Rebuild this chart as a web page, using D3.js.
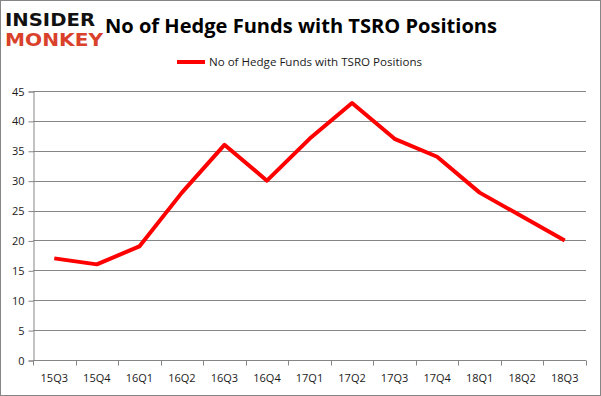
<!DOCTYPE html>
<html>
<head>
<meta charset="utf-8">
<script src="https://cdn.jsdelivr.net/npm/d3@7"></script>
<style>
  body { margin: 0; background: #fff; }
  svg { display: block; font-family: "Open Sans", "DejaVu Sans", sans-serif; }
</style>
</head>
<body>
<svg id="chart"></svg>
<script>
'use strict';

// data
const quarters = ['15Q3', '15Q4', '16Q1', '16Q2', '16Q3', '16Q4', '17Q1',
                  '17Q2', '17Q3', '17Q4', '18Q1', '18Q2', '18Q3'];
const funds = [17, 16, 19, 28, 36, 30, 37, 43, 37, 34, 28, 24, 20];
const yTicks = [0, 5, 10, 15, 20, 25, 30, 35, 40, 45];
const seriesName = 'No of Hedge Funds with TSRO Positions';
const title = 'No of Hedge Funds with TSRO Positions';

const width = 601, height = 396;
const plot = { left: 33, right: 586, top: 91, bottom: 360 };

const svg = d3.select('#chart')
    .attr('width', width)
    .attr('height', height);

// outer frame
svg.append('rect')
    .attr('x', 0.5).attr('y', 0.5)
    .attr('width', width - 1).attr('height', height - 1)
    .attr('fill', '#fff')
    .attr('stroke', '#868686');

const x = d3.scaleBand()
    .domain(quarters)
    .range([plot.left, plot.right]);

const y = d3.scaleLinear()
    .domain([0, 45])
    .range([plot.bottom, plot.top]);

// horizontal gridlines
svg.append('g')
    .selectAll('line')
    .data(yTicks.filter(d => d > 0))
    .enter()
    .append('line')
    .attr('x1', plot.left)
    .attr('x2', plot.right)
    .attr('y1', d => Math.round(y(d)) + 0.5)
    .attr('y2', d => Math.round(y(d)) + 0.5)
    .attr('stroke', '#868686')
    .attr('stroke-width', 1);

// y axis
const yAxis = d3.axisLeft(y).tickValues(yTicks).tickSize(5).tickPadding(4);
const gy = svg.append('g')
    .attr('transform', 'translate(' + (plot.left + 0.5) + ',0.5)')
    .call(yAxis);

// x axis
const xAxis = d3.axisBottom(x).tickSize(0).tickPadding(14);
const gx = svg.append('g')
    .attr('transform', 'translate(0,' + (Math.round(plot.bottom) + 0.5) + ')')
    .call(xAxis);

// category boundary ticks
gx.selectAll('.bound')
    .data(quarters.concat(['end']))
    .enter()
    .append('line')
    .attr('class', 'bound')
    .attr('x1', (d, i) => Math.round(plot.left + i * x.step()) + 0.5)
    .attr('x2', (d, i) => Math.round(plot.left + i * x.step()) + 0.5)
    .attr('y1', 0)
    .attr('y2', 5)
    .attr('stroke', '#868686');

[gx, gy].forEach(g => {
    g.select('.domain').attr('stroke', '#868686');
    g.selectAll('.tick line').attr('stroke', '#868686');
    g.selectAll('.tick text')
        .attr('fill', '#1a1a1a')
        .style('font-size', '11px')
        .style('font-family', '"Open Sans", "DejaVu Sans", sans-serif');
});
gx.select('.domain').attr('d', 'M' + plot.left + ',0H' + plot.right);

// the series line
const line = d3.line()
    .x((d, i) => x(quarters[i]) + x.bandwidth() / 2)
    .y(d => y(d));

svg.append('path')
    .datum(funds)
    .attr('d', line)
    .attr('fill', 'none')
    .attr('stroke', '#ff0000')
    .attr('stroke-width', 4)
    .attr('stroke-linejoin', 'round');

// title
svg.append('text')
    .attr('x', 301)
    .attr('y', 33)
    .attr('text-anchor', 'middle')
    .style('font-size', '20px')
    .style('font-weight', 'bold')
    .attr('fill', '#000')
    .attr('textLength', 392)
    .attr('lengthAdjust', 'spacingAndGlyphs')
    .text(title);

// legend
svg.append('line')
    .attr('x1', 177).attr('x2', 205)
    .attr('y1', 62).attr('y2', 62)
    .attr('stroke', '#ff0000')
    .attr('stroke-width', 4);
svg.append('text')
    .attr('x', 209)
    .attr('y', 66)
    .style('font-size', '11.5px')
    .attr('fill', '#1a1a1a')
    .attr('textLength', 213)
    .attr('lengthAdjust', 'spacingAndGlyphs')
    .text(seriesName);

// logo
svg.append('text')
    .attr('x', 5).attr('y', 26)
    .style('font-family', '"DejaVu Sans", sans-serif')
    .style('font-size', '17px')
    .style('font-weight', 'bold')
    .attr('fill', '#111')
    .attr('textLength', 90)
    .attr('lengthAdjust', 'spacingAndGlyphs')
    .text('INSIDER');
svg.append('text')
    .attr('x', 5).attr('y', 46)
    .style('font-family', '"DejaVu Sans", sans-serif')
    .style('font-size', '17px')
    .style('font-weight', 'bold')
    .attr('fill', '#d9412b')
    .attr('textLength', 98)
    .attr('lengthAdjust', 'spacingAndGlyphs')
    .text('MONKEY');
</script>
</body>
</html>
